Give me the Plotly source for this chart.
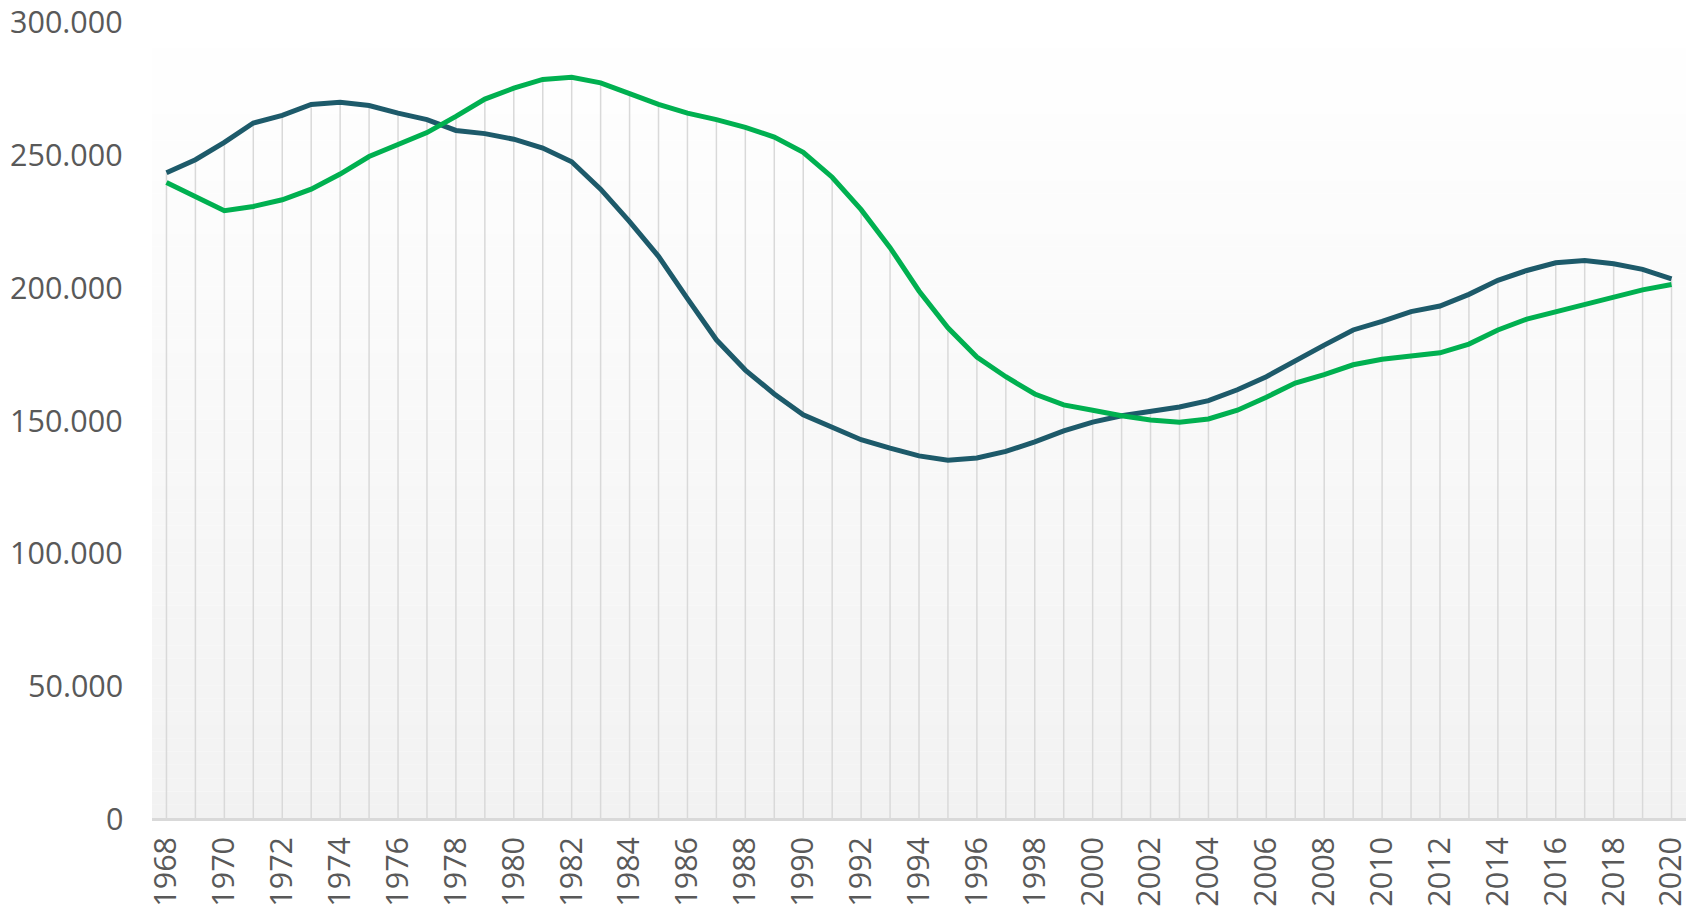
import plotly.graph_objects as go

years = list(range(1968, 2021))

series_dark = [242.9, 247.8, 254.3, 261.6, 264.5, 268.6, 269.4, 268.2, 265.3, 262.9,
               258.8, 257.6, 255.5, 252.2, 247.0, 236.7, 224.5, 211.4, 195.5, 180.0,
               168.6, 159.6, 151.8, 146.9, 142.4, 139.2, 136.3, 134.7, 135.5, 138.0,
               141.6, 145.7, 149.0, 151.4, 153.0, 154.7, 157.1, 161.2, 166.1, 172.2,
               178.0, 183.7, 186.9, 190.6, 192.7, 197.1, 202.4, 206.1, 209.0, 209.8,
               208.6, 206.5, 202.9]

series_green = [239.2, 233.9, 228.6, 230.2, 232.7, 236.7, 242.4, 249.0, 253.5, 258.0,
                264.1, 270.6, 274.7, 278.0, 278.8, 276.7, 272.7, 268.6, 265.3, 262.9,
                260.0, 256.3, 250.6, 241.2, 229.0, 214.7, 198.4, 184.5, 173.5, 166.1,
                159.6, 155.5, 153.5, 151.4, 149.8, 149.0, 150.2, 153.5, 158.4, 163.7,
                166.9, 170.6, 172.7, 173.9, 175.1, 178.4, 183.7, 187.8, 190.6, 193.1,
                195.9, 198.8, 200.8]

y_ticks = [0, 50000, 100000, 150000, 200000, 250000, 300000]
y_labels = ["0", "50.000", "100.000", "150.000", "200.000", "250.000", "300.000"]
x_ticks = list(range(1968, 2021, 2))

dark_vals = [v * 1000 for v in series_dark]
green_vals = [v * 1000 for v in series_green]

# drop lines from the axis up to the higher of the two series
drop_x, drop_y = [], []
for yr, a, b in zip(years, dark_vals, green_vals):
    drop_x += [yr, yr, None]
    drop_y += [0, max(a, b), None]

fig = go.Figure()
fig.add_trace(go.Scatter(x=drop_x, y=drop_y, mode="lines",
                         line=dict(color="#d9d9d9", width=1.5),
                         hoverinfo="skip", showlegend=False))
fig.add_trace(go.Scatter(x=years, y=dark_vals, mode="lines",
                         line=dict(color="#1d5a6a", width=5), showlegend=False))
fig.add_trace(go.Scatter(x=years, y=green_vals, mode="lines",
                         line=dict(color="#00b050", width=5), showlegend=False))

# vertical gradient background of the plot area (white -> light grey)
n = 60
shapes = []
for i in range(n):
    t = (i + 0.5) / n
    c = int(round(242 + (255 - 242) * t))
    shapes.append(dict(type="rect", xref="paper", yref="paper",
                       x0=0, x1=1, y0=i / n, y1=(i + 1) / n,
                       fillcolor=f"rgb({c},{c},{c})", line=dict(width=0),
                       layer="below"))

font_family = "Open Sans"
label_font = dict(family=font_family, size=30.5, color="#595959")

# y-axis value labels (placed at the axis values)
annotations = [dict(xref="paper", x=0, yref="y", y=v, text=t, showarrow=False,
                    xanchor="right", yanchor="middle", xshift=-27, font=label_font)
               for v, t in zip(y_ticks, y_labels)]

fig.update_layout(
    width=1692, height=901,
    margin=dict(l=144, r=14, t=13, b=91),
    paper_bgcolor="white", plot_bgcolor="white",
    shapes=shapes,
    annotations=annotations,
    font=label_font,
    xaxis=dict(range=[1967.5, 2020.5], tickmode="array", tickvals=x_ticks,
               ticktext=[str(v) for v in x_ticks], tickangle=-90,
               showgrid=False, zeroline=False, showline=True,
               linecolor="#d9d9d9", linewidth=2.5,
               ticks="outside", ticklen=4, tickcolor="rgba(0,0,0,0)",
               automargin=False, fixedrange=True),
    yaxis=dict(range=[0, 300000], tickmode="array", tickvals=y_ticks,
               showticklabels=False,
               showgrid=False, zeroline=False, showline=False,
               ticks="", automargin=False, fixedrange=True),
)

fig.write_html("out.html")
